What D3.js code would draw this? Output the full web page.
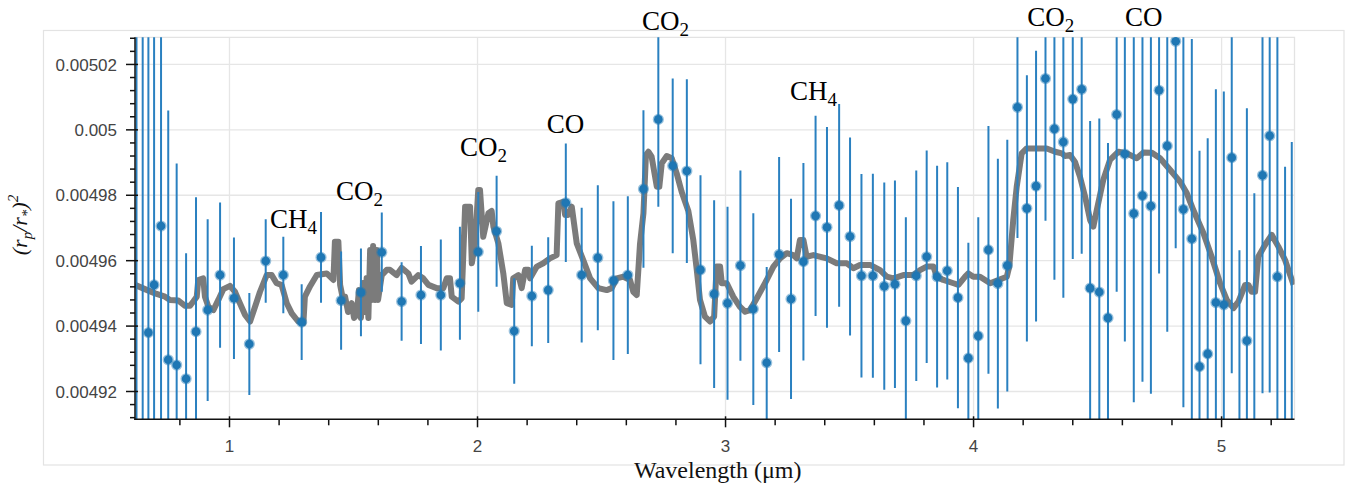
<!DOCTYPE html>
<html><head><meta charset="utf-8">
<script src="https://cdn.jsdelivr.net/npm/d3@7"></script>
<style>body{margin:0;background:#fff}</style>
</head><body><svg id="chart" width="1349" height="489"></svg>
<script>
// ---- observed transit depths ----
const wavelength = [0.625,0.650,0.673,0.696,0.724,0.753,0.787,0.825,0.865,0.912,0.962,1.018,1.080,1.146,1.217,1.291,1.369,1.450,1.530,1.614,1.694,1.772,1.852,1.929,2.003,2.077,2.148,2.219,2.285,2.356,2.420,2.485,2.548,2.606,2.669,2.729,2.787,2.844,2.899,2.954,3.008,3.060,3.112,3.166,3.216,3.264,3.314,3.363,3.409,3.458,3.502,3.548,3.594,3.640,3.683,3.727,3.769,3.811,3.853,3.894,3.937,3.979,4.019,4.060,4.098,4.136,4.177,4.215,4.252,4.290,4.326,4.362,4.400,4.436,4.470,4.507,4.542,4.577,4.610,4.646,4.681,4.715,4.748,4.781,4.815,4.846,4.880,4.911,4.944,4.977,5.009,5.041,5.072,5.102,5.132,5.165,5.194,5.225,5.256,5.283];
const depth = [0.0049000,0.0049050,0.0049380,0.0049526,0.0049706,0.0049297,0.0049281,0.0049239,0.0049383,0.0049449,0.0049556,0.0049485,0.0049345,0.0049599,0.0049556,0.0049412,0.0049610,0.0049478,0.0049503,0.0049626,0.0049475,0.0049495,0.0049495,0.0049531,0.0049627,0.0049690,0.0049385,0.0049492,0.0049510,0.0049777,0.0049556,0.0049609,0.0049539,0.0049556,0.0049819,0.0050032,0.0049890,0.0049874,0.0049572,0.0049498,0.0049470,0.0049585,0.0049452,0.0049288,0.0049619,0.0049483,0.0049597,0.0049737,0.0049702,0.0049769,0.0049674,0.0049554,0.0049554,0.0049522,0.0049528,0.0049416,0.0049554,0.0049612,0.0049551,0.0049569,0.0049487,0.0049302,0.0049370,0.0049633,0.0049530,0.0049585,0.0050069,0.0049760,0.0049828,0.0050157,0.0050003,0.0049963,0.0050094,0.0050124,0.0049516,0.0049504,0.0049425,0.0050047,0.0049926,0.0049744,0.0049799,0.0049767,0.0050121,0.0049951,0.0050271,0.0049757,0.0049667,0.0049276,0.0049315,0.0049472,0.0049465,0.0049915,0.0048945,0.0049355,0.0049083,0.0049861,0.0049982,0.0049551,0.0049077,0.0049077];
const depthErrPpm = [150,140,120,120,100,76.2,61.6,38.4,41.1,27.8,22.2,18.6,15.6,12.8,11.7,11.6,13.9,15.0,13.4,12.1,12.0,15.0,17.0,17.3,18.3,17.0,16.1,15.4,16.2,18.1,20.6,22.2,24.3,24.1,24.1,26.7,26.7,28.1,28.9,28.7,29.5,29.1,29.3,29.3,29.8,30.6,30.2,30.6,30.7,31.0,30.3,31.1,31.2,31.7,31.7,31.7,32.2,32.5,33.9,33.2,33.8,35.3,36.3,37.9,38.2,38.5,40.0,40.7,41.4,43.5,46.1,47.6,48.9,50.3,51.1,53.1,53.5,54.2,57.3,57.7,56.9,57.4,56.0,56.8,63.3,60.5,61.1,66.0,65.9,65.2,65.2,65.9,68.7,71.1,72.3,66.6,78.5,74.9,81.0,88.6];

// ---- best-fit model spectrum ----
const modelWavelength = [0.619,0.659,0.700,0.740,0.760,0.794,0.821,0.841,0.854,0.868,0.874,0.894,0.901,0.915,0.935,0.955,0.975,1.002,1.022,1.042,1.063,1.083,1.103,1.123,1.150,1.170,1.190,1.210,1.231,1.251,1.277,1.298,1.304,1.325,1.352,1.392,1.419,1.425,1.439,1.446,1.458,1.466,1.478,1.493,1.502,1.513,1.522,1.530,1.538,1.546,1.553,1.560,1.567,1.573,1.579,1.587,1.594,1.599,1.614,1.634,1.647,1.674,1.694,1.721,1.734,1.761,1.781,1.802,1.835,1.862,1.876,1.889,1.896,1.923,1.936,1.950,1.970,1.977,1.990,2.003,2.010,2.023,2.044,2.057,2.064,2.084,2.104,2.118,2.138,2.144,2.165,2.178,2.192,2.205,2.212,2.239,2.265,2.292,2.319,2.326,2.346,2.353,2.366,2.380,2.400,2.427,2.454,2.487,2.521,2.541,2.561,2.588,2.615,2.628,2.642,2.655,2.669,2.679,2.689,2.702,2.723,2.733,2.743,2.763,2.783,2.803,2.823,2.850,2.870,2.884,2.897,2.917,2.938,2.954,2.964,2.978,2.985,3.005,3.031,3.058,3.079,3.099,3.126,3.166,3.193,3.220,3.247,3.273,3.287,3.300,3.314,3.327,3.354,3.408,3.448,3.489,3.515,3.542,3.583,3.623,3.650,3.677,3.717,3.757,3.784,3.811,3.838,3.852,3.878,3.919,3.939,3.966,3.979,3.999,4.026,4.067,4.100,4.134,4.144,4.160,4.174,4.194,4.214,4.295,4.329,4.356,4.369,4.389,4.409,4.429,4.450,4.470,4.483,4.497,4.523,4.550,4.584,4.618,4.658,4.685,4.719,4.752,4.793,4.833,4.860,4.886,4.927,4.960,4.994,5.021,5.048,5.068,5.095,5.108,5.121,5.135,5.148,5.175,5.202,5.229,5.256,5.290];
const modelDepth = [0.0049526,0.0049513,0.0049500,0.0049490,0.0049480,0.0049478,0.0049462,0.0049462,0.0049475,0.0049490,0.0049541,0.0049546,0.0049490,0.0049459,0.0049449,0.0049480,0.0049513,0.0049523,0.0049505,0.0049470,0.0049434,0.0049414,0.0049459,0.0049505,0.0049556,0.0049556,0.0049531,0.0049526,0.0049470,0.0049439,0.0049414,0.0049409,0.0049490,0.0049522,0.0049556,0.0049561,0.0049541,0.0049658,0.0049658,0.0049526,0.0049480,0.0049490,0.0049443,0.0049470,0.0049425,0.0049434,0.0049510,0.0049425,0.0049532,0.0049443,0.0049547,0.0049425,0.0049633,0.0049480,0.0049645,0.0049480,0.0049633,0.0049480,0.0049556,0.0049572,0.0049572,0.0049556,0.0049578,0.0049561,0.0049536,0.0049556,0.0049546,0.0049526,0.0049516,0.0049516,0.0049546,0.0049546,0.0049490,0.0049475,0.0049485,0.0049765,0.0049765,0.0049592,0.0049653,0.0049816,0.0049816,0.0049673,0.0049745,0.0049752,0.0049704,0.0049653,0.0049561,0.0049470,0.0049465,0.0049546,0.0049556,0.0049516,0.0049572,0.0049572,0.0049546,0.0049582,0.0049592,0.0049607,0.0049617,0.0049775,0.0049780,0.0049740,0.0049740,0.0049765,0.0049653,0.0049600,0.0049546,0.0049516,0.0049510,0.0049516,0.0049546,0.0049551,0.0049541,0.0049505,0.0049495,0.0049650,0.0049745,0.0049923,0.0049933,0.0049918,0.0049826,0.0049826,0.0049898,0.0049920,0.0049913,0.0049867,0.0049811,0.0049752,0.0049663,0.0049572,0.0049480,0.0049429,0.0049414,0.0049429,0.0049582,0.0049582,0.0049531,0.0049531,0.0049490,0.0049459,0.0049444,0.0049449,0.0049485,0.0049541,0.0049582,0.0049607,0.0049623,0.0049617,0.0049607,0.0049663,0.0049663,0.0049612,0.0049617,0.0049607,0.0049592,0.0049592,0.0049577,0.0049587,0.0049587,0.0049571,0.0049551,0.0049546,0.0049556,0.0049556,0.0049571,0.0049582,0.0049582,0.0049551,0.0049541,0.0049531,0.0049526,0.0049551,0.0049561,0.0049551,0.0049551,0.0049531,0.0049541,0.0049551,0.0049582,0.0049724,0.0049826,0.0049928,0.0049943,0.0049943,0.0049933,0.0049928,0.0049920,0.0049923,0.0049902,0.0049857,0.0049795,0.0049724,0.0049704,0.0049755,0.0049847,0.0049908,0.0049933,0.0049928,0.0049913,0.0049931,0.0049930,0.0049913,0.0049877,0.0049841,0.0049806,0.0049755,0.0049684,0.0049612,0.0049531,0.0049480,0.0049455,0.0049475,0.0049526,0.0049526,0.0049505,0.0049505,0.0049612,0.0049648,0.0049679,0.0049643,0.0049602,0.0049526];

// ---- molecule annotations ----
const annotationLabels = ["CH4","CO2","CO2","CO","CO2","CH4","CO2","CO"];
const annotationWavelength = [1.163,1.429,1.929,2.279,2.663,3.260,4.216,4.611];
const annotationDepth = [0.0049700,0.0049787,0.0049920,0.0049989,0.0050305,0.0050091,0.0050317,0.0050317];

// ---- axes ----
const xDomain = [0.619, 5.294];
const yDomain = [0.0049115, 0.0050283];
const xMajorTicks = [1,2,3,4,5];
const xMinorTicks = [0.8,1.2,1.4,1.6,1.8,2.2,2.4,2.6,2.8,3.2,3.4,3.6,3.8,4.2,4.4,4.6,4.8,5.2];
const yMajorTicks = [0.00492,0.00494,0.00496,0.00498,0.005,0.00502];
const yMinorTicks = [0.004912,0.004916,0.004924,0.004928,0.004932,0.004936,0.004944,0.004948,0.004952,0.004956,0.004964,0.004968,0.004972,0.004976,0.004984,0.004988,0.004992,0.004996,0.005004,0.005008,0.005012,0.005016,0.005024,0.005028];

// ---- layout ----
const W = 1349, H = 489;
const L = 135, R = 1294.5, T = 37.3, B = 419.3;
const svg = d3.select("#chart");
const x = d3.scaleLinear().domain(xDomain).range([L, R]);
const y = d3.scaleLinear().domain(yDomain).range([B, T]);

// outer frame
svg.append("rect").attr("x",43.5).attr("y",30.5).attr("width",1344-43.5).attr("height",465-30.5)
  .attr("fill","#fff").attr("stroke","#e3e3e3").attr("stroke-width",1.2);

// grid
const grid = svg.append("g");
grid.selectAll(".gx").data(xMajorTicks).join("line")
  .attr("x1",d=>x(d)).attr("x2",d=>x(d)).attr("y1",T).attr("y2",B)
  .attr("stroke","#e6e6e6").attr("stroke-width",1.3);
grid.selectAll(".gy").data(yMajorTicks).join("line")
  .attr("x1",L).attr("x2",R).attr("y1",d=>y(d)).attr("y2",d=>y(d))
  .attr("stroke","#e6e6e6").attr("stroke-width",1.3);
// plot border top/right
svg.append("path").attr("d",`M${L},${T}H${R}V${B}`).attr("fill","none")
  .attr("stroke","#e3e3e3").attr("stroke-width",1.3);

svg.append("clipPath").attr("id","clip").append("rect")
  .attr("x",L).attr("y",T).attr("width",R-L).attr("height",B-T);
const plot = svg.append("g").attr("clip-path","url(#clip)");

// model line
const model = modelWavelength.map((w,i)=>[w, modelDepth[i]]);
plot.append("path").datum(model)
  .attr("d", d3.line().x(d=>x(d[0])).y(d=>y(d[1])))
  .attr("fill","none").attr("stroke","#777").attr("stroke-width",6)
  .attr("stroke-linejoin","round").attr("stroke-opacity",0.97);

// error bars
const pts = wavelength.map((w,i)=>({w, v:depth[i], e:depthErrPpm[i]*1e-6}));
plot.selectAll(".eb").data(pts).join("line")
  .attr("x1",d=>x(d.w)).attr("x2",d=>x(d.w))
  .attr("y1",d=>y(d.v+d.e)).attr("y2",d=>y(d.v-d.e))
  .attr("stroke","#2a80c0").attr("stroke-width",2);

// points
plot.selectAll(".pt").data(pts).join("circle")
  .attr("cx",d=>x(d.w)).attr("cy",d=>y(d.v)).attr("r",4.3)
  .attr("fill","#1f77b4").attr("stroke","#1f77b4").attr("stroke-opacity",0.45).attr("stroke-width",2.6);

// axes
const tickFont = "Liberation Sans, Arial, sans-serif";
const ax = svg.append("g");
// minor ticks
ax.selectAll(".xm").data(xMinorTicks.filter(d=>d>=xDomain[0]&&d<=xDomain[1])).join("line")
  .attr("x1",d=>x(d)).attr("x2",d=>x(d)).attr("y1",B).attr("y2",B+6)
  .attr("stroke","#111").attr("stroke-width",1.5);
ax.selectAll(".ym").data(yMinorTicks.filter(d=>d>=yDomain[0]&&d<=yDomain[1])).join("line")
  .attr("x1",L-5).attr("x2",L).attr("y1",d=>y(d)).attr("y2",d=>y(d))
  .attr("stroke","#111").attr("stroke-width",1.5);
// major ticks
ax.selectAll(".xM").data(xMajorTicks).join("line")
  .attr("x1",d=>x(d)).attr("x2",d=>x(d)).attr("y1",B-3).attr("y2",B+8)
  .attr("stroke","#111").attr("stroke-width",1.5);
ax.selectAll(".yM").data(yMajorTicks).join("line")
  .attr("x1",L-9).attr("x2",L+3).attr("y1",d=>y(d)).attr("y2",d=>y(d))
  .attr("stroke","#111").attr("stroke-width",1.5);
// axis lines
ax.append("line").attr("x1",L).attr("x2",L).attr("y1",T).attr("y2",B+0.75).attr("stroke","#111").attr("stroke-width",1.5);
ax.append("line").attr("x1",L-0.75).attr("x2",R).attr("y1",B).attr("y2",B).attr("stroke","#111").attr("stroke-width",1.5);
// tick labels
ax.selectAll(".xl").data(xMajorTicks).join("text")
  .attr("x",d=>x(d)).attr("y",B+33).attr("text-anchor","middle")
  .attr("font-family",tickFont).attr("font-size",17).attr("fill","#444")
  .text(d=>d);
ax.selectAll(".yl").data(yMajorTicks).join("text")
  .attr("x",L-18).attr("y",d=>y(d)).attr("dy","0.36em").attr("text-anchor","end")
  .attr("font-family",tickFont).attr("font-size",17).attr("fill","#444")
  .text(d=>String(+d.toFixed(5)));

// axis titles
const serif = "Liberation Serif, Times New Roman, serif";
svg.append("text").attr("x",(L+R)/2+3).attr("y",478).attr("text-anchor","middle")
  .attr("font-family",serif).attr("font-size",24).attr("fill","#111")
  .text("Wavelength (μm)");
const yt = svg.append("text").attr("transform","translate(27,225) rotate(-90)")
  .attr("text-anchor","middle").attr("font-family",serif).attr("font-size",22)
  .attr("font-style","italic").attr("fill","#111");
yt.append("tspan").text("(r");
yt.append("tspan").attr("dy",5).attr("font-size",15).text("p");
yt.append("tspan").attr("dy",-5).text("/r");
yt.append("tspan").attr("dy",5).attr("font-size",15).text("*");
yt.append("tspan").attr("dy",-5).text(")");
yt.append("tspan").attr("dy",-9).attr("font-size",15).text("2");

// molecule annotations
annotationLabels.forEach((lab,i)=>{
  const m = lab.match(/^(\D+)(\d*)$/);
  const t = svg.append("text").attr("x",x(annotationWavelength[i])).attr("y",y(annotationDepth[i]))
    .attr("font-family",serif).attr("font-size",27).attr("fill","#000");
  t.append("tspan").text(m[1]);
  if (m[2]) t.append("tspan").attr("dy",6).attr("font-size",19).text(m[2]);
});
</script></body></html>
